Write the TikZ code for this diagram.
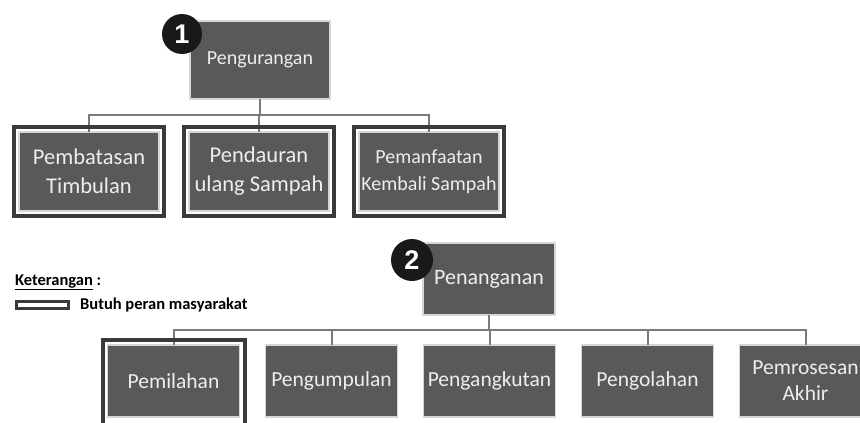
\documentclass[tikz,border=0pt]{standalone}
\usepackage{fontspec}
\setmainfont{Carlito}
\newfontfamily\numfont{Liberation Sans}
\usepackage{tikz}
\usetikzlibrary{positioning,fit}
\definecolor{cbox}{HTML}{595959}
\definecolor{cedge}{HTML}{D6D6D6}
\definecolor{ctext}{HTML}{EEEEEE}
\definecolor{cframe}{HTML}{3A3A3A}
\definecolor{cline}{HTML}{7A7A7A}

\begin{document}
\begin{tikzpicture}[x=1pt,y=-1pt,
  box/.style={draw=cedge,fill=cbox,text=ctext,line width=1.5pt,align=center,
              outer sep=0pt,inner sep=2pt},
  top/.style={box,minimum width=140pt,minimum height=79pt,
              font=\fontsize{22.5}{29}\selectfont},
  low/.style={box,minimum width=132pt,minimum height=72pt,
              font=\fontsize{21.5}{26}\selectfont},
  frame/.style={draw=cframe,line width=4pt,inner sep=5pt},
  num/.style={circle,fill=black!90,text=white,minimum size=40pt,inner sep=0pt,
              font=\numfont\bfseries\fontsize{27}{27}\selectfont},
  lab/.style={inner sep=0pt,anchor=west,font=\bfseries\fontsize{16.5}{18}\selectfont},
  conn/.style={draw=cline,line width=2pt}]
  \useasboundingbox (0,0) rectangle (860,423);
  % 1 - pengurangan
  \node[box,minimum width=140pt,minimum height=78pt,
        font=\fontsize{20}{24}\selectfont] (red) at (260,60) {Pengurangan};
  \node[top] (r1) at (89,171.5) {Pembatasan\\Timbulan};
  \node[top,right=30pt of r1] (r2) {Pendauran\\ulang Sampah};
  \node[top,right=30pt of r2,font=\fontsize{20}{27}\selectfont] (r3) {Pemanfaatan\\Kembali Sampah};
  \draw[conn] (red.south) -- ++(0,16) coordinate (rj);
  \foreach \c in {r1,r2,r3}
     \draw[conn] (rj) -| (\c.north);
  \foreach \c in {r1,r2,r3}
     \node[frame,fit=(\c)] {};
  \node[num] (n1) at (182,34) {1};
  % 2 - penanganan
  \node[low,font=\fontsize{22}{26}\selectfont] (han) at (489,279) {Penanganan};
  \node[low] (h1) at (173.5,381) {Pemilahan};
  \node[low,right=26pt of h1] (h2) {Pengumpulan};
  \node[low,right=26pt of h2] (h3) {Pengangkutan};
  \node[low,right=26pt of h3] (h4) {Pengolahan};
  \node[low,right=26pt of h4] (h5) {Pemrosesan\\Akhir};
  \draw[conn] (han.south) -- ++(0,15) coordinate (hj);
  \foreach \c in {h1,h2,h3,h4,h5}
     \draw[conn] (hj) -| (\c.north);
  \coordinate[below=14pt of h1] (cut);
  \node[frame,fit=(h1)(cut)] {};
  \node[num,minimum size=42pt] (n2) at (412,260) {2};
  % keterangan
  \node[lab] (ket) at (15,282.5) {\underline{Keterangan} :};
  \node[draw=cframe,line width=3pt,minimum width=52pt,minimum height=7pt,
        inner sep=0pt] (lgbox) at (42.5,305) {};
  \node[lab,right=10pt of lgbox] (lgtext) {Butuh peran masyarakat};
\end{tikzpicture}
\end{document}
